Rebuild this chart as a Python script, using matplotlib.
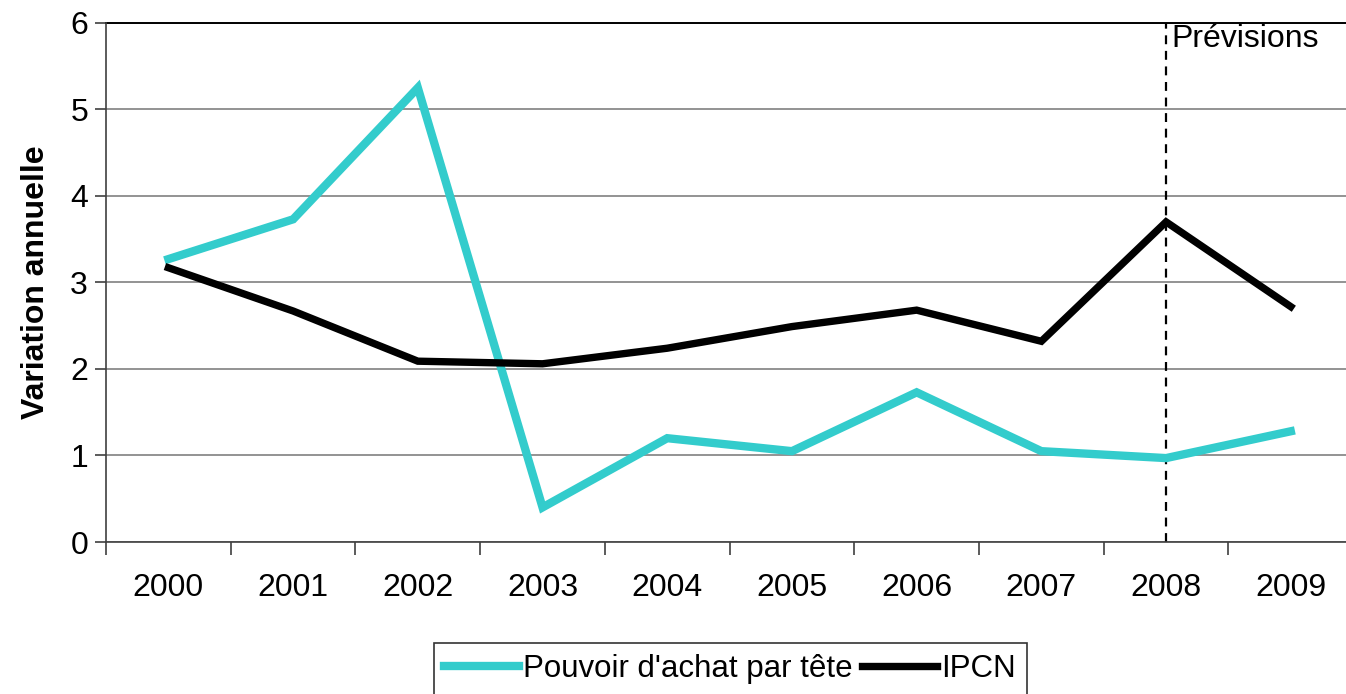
import matplotlib
matplotlib.use("Agg")
import matplotlib.pyplot as plt
from matplotlib.ticker import FixedLocator

plt.rcParams['font.family'] = ['Liberation Sans', 'DejaVu Sans']

annees = ["2000", "2001", "2002", "2003", "2004", "2005", "2006", "2007", "2008", "2009"]
pouvoir_achat = [3.27, 3.73, 5.25, 0.40, 1.20, 1.05, 1.73, 1.05, 0.97, 1.28]
ipcn = [3.17, 2.67, 2.09, 2.06, 2.24, 2.49, 2.68, 2.32, 3.70, 2.72]
annee_prevision = "2008"

FS = 23

fig = plt.figure(figsize=(13.46, 6.94), dpi=100)
ax = fig.add_axes([0.0788, 0.219, 0.9265, 0.748])

x = list(range(len(annees)))
ax.plot(x, pouvoir_achat, color="#33CCCC", lw=6, label="Pouvoir d'achat par tête",
        solid_joinstyle="miter", zorder=3)
ax.plot(x, ipcn, color="black", lw=5.3, label="IPCN", solid_joinstyle="miter", zorder=3)

xp = annees.index(annee_prevision)
ax.axvline(xp, color="black", lw=1.6, ls=(0, (4, 3)), zorder=2)
ax.text(xp + 0.04, 5.985, "Prévisions", fontsize=FS, va="top", ha="left")

ax.set_xlim(-0.5, len(annees) - 0.5)
ax.set_ylim(0, 6)
ax.set_yticks(range(7))
ax.yaxis.grid(True, color="#808080", lw=1.2)
ax.set_axisbelow(True)
ax.set_xticks(x)
ax.set_xticklabels(annees)
ax.xaxis.set_minor_locator(FixedLocator([i - 0.5 for i in range(len(annees) + 1)]))
ax.tick_params(axis="x", which="major", length=0, pad=22, labelsize=FS)
ax.tick_params(axis="x", which="minor", length=9, width=1.2, color="#404040")
ax.tick_params(axis="y", length=8, width=1.2, color="#404040", labelsize=FS, pad=5)

for s in ["right", "top"]:
    ax.spines[s].set_visible(False)
ax.spines["left"].set_color("#404040")
ax.spines["left"].set_linewidth(1.2)
ax.spines["bottom"].set_color("#404040")
ax.spines["bottom"].set_linewidth(1.2)
ax.axhline(6, color="black", lw=1.4, clip_on=False)

ax.set_ylabel("Variation annuelle", fontsize=FS, fontweight="bold", labelpad=14)

leg = fig.legend(loc="upper center", bbox_to_anchor=(730 / 1346, 1 - 643 / 694), ncol=2,
                 fontsize=22.5, frameon=True, fancybox=False, handlelength=2.4,
                 handletextpad=0.12, columnspacing=0.3, borderpad=0.35, borderaxespad=0)
leg.get_frame().set_edgecolor("black")
leg.get_frame().set_linewidth(1.2)

fig.savefig("out.png", dpi=100)
